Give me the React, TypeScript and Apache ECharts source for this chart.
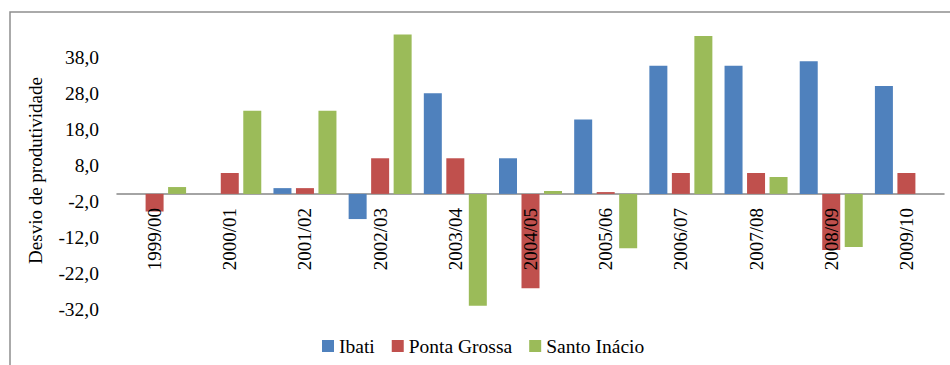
import React, { useEffect, useRef } from "react";
import * as echarts from "echarts";

const categories = ["1999/00", "2000/01", "2001/02", "2002/03", "2003/04", "2004/05", "2005/06", "2006/07", "2007/08", "2008/09", "2009/10"];
const ibati = [0, 0, 1.6, -7.0, 28.0, 9.9, 20.7, 35.6, 35.6, 36.9, 30.0];
const pontaGrossa = [-4.9, 5.8, 1.6, 9.9, 9.9, -26.2, 0.5, 5.8, 5.8, -15.6, 5.8];
const santoInacio = [1.9, 23.1, 23.1, 44.3, -31.1, 0.8, -15.1, 43.9, 4.7, -14.8, 0];
const seriesNames = ["Ibati", "Ponta Grossa", "Santo Inácio"];
const yAxisTitle = "Desvio de produtividade";
const yMin = -32;
const yMax = 45;
const yStep = 10;

const FONT = "Liberation Serif";

const GRID_TOP = 32;
const GRID_BOTTOM = 56;
const H = 365;

export default function App() {
  const ref = useRef<HTMLDivElement>(null);
  useEffect(() => {
    if (!ref.current) return;
    const chart = echarts.init(ref.current, null, { renderer: "svg" });
    const plotH = H - GRID_TOP - GRID_BOTTOM;
    const zeroY = GRID_TOP + (plotH * yMax) / (yMax - yMin);
    const mk = (name: string, data: number[], color: string) => ({
      name,
      type: "bar",
      data,
      xAxisIndex: 0,
      yAxisIndex: 0,
      barWidth: 18,
      barGap: "25%",
      itemStyle: { color },
    });
    chart.setOption({
      animation: false,
      backgroundColor: "#ffffff",
      textStyle: { fontFamily: FONT },
      graphic: [
        {
          type: "rect",
          shape: { x: 10, y: 12, width: 960, height: 400 },
          style: { fill: "none", stroke: "#8e8e8e", lineWidth: 1.5 },
          silent: true,
        },
      ],
      grid: [
        { left: 117, right: 6, top: GRID_TOP, bottom: GRID_BOTTOM, outerBoundsMode: "none", containLabel: false },
        { left: 117, right: 6, top: GRID_TOP, bottom: H - zeroY, outerBoundsMode: "none", containLabel: false },
      ],
      legend: {
        left: 322,
        top: 336,
        padding: 0,
        icon: "rect",
        itemWidth: 12,
        itemHeight: 12,
        itemGap: 17,
        textStyle: { fontSize: 19.5, fontFamily: FONT, color: "#000" },
        data: seriesNames,
      },
      xAxis: [
        {
          type: "category",
          gridIndex: 0,
          data: categories,
          axisLine: { onZero: true, lineStyle: { color: "#868686", width: 1.5 } },
          axisTick: { show: false },
          axisLabel: { show: false },
        },
        {
          type: "category",
          gridIndex: 1,
          data: categories,
          z: 10,
          axisLine: { show: false, onZero: false },
          axisTick: { show: false },
          axisLabel: {
            interval: 0,
            rotate: 90,
            margin: 14,
            fontSize: 19,
            fontFamily: FONT,
            color: "#000",
          },
        },
      ],
      yAxis: [
        {
          type: "value",
          gridIndex: 0,
          min: yMin,
          max: yMax,
          interval: yStep,
          name: yAxisTitle,
          nameLocation: "middle",
          nameGap: 72,
          nameTextStyle: { fontSize: 19, fontFamily: FONT, color: "#000" },
          axisLine: { show: false },
          axisTick: { show: false },
          splitLine: { show: false },
          axisLabel: {
            margin: 18,
            fontSize: 19.5,
            fontFamily: FONT,
            color: "#000",
            padding: [4, 0, 0, 0],
            showMaxLabel: false,
            formatter: (v: number) => v.toFixed(1).replace(".", ","),
          },
        },
        {
          type: "value",
          gridIndex: 1,
          show: false,
          min: 0,
          max: 1,
        },
      ],
      series: [
        mk(seriesNames[0], ibati, "#4F81BD"),
        mk(seriesNames[1], pontaGrossa, "#C0504D"),
        mk(seriesNames[2], santoInacio, "#9BBB59"),
      ],
    });
    return () => chart.dispose();
  }, []);
  return (
    <div
      ref={ref}
      style={{ position: "fixed", left: 0, top: 0, width: 950, height: 365, background: "#fff" }}
    />
  );
}
